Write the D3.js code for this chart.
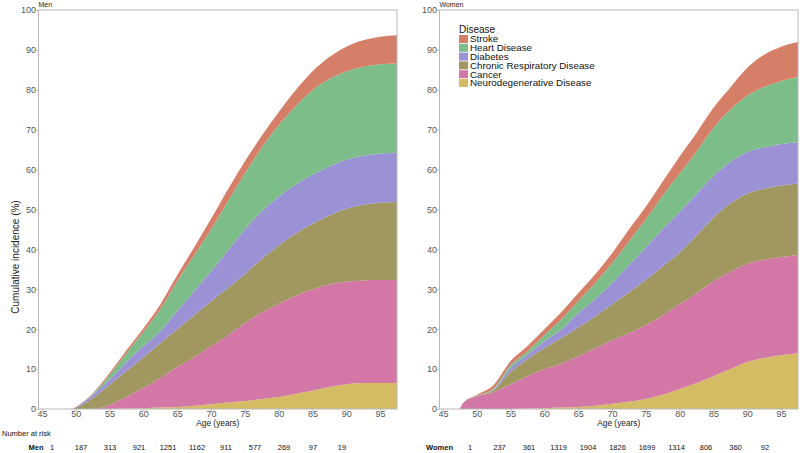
<!DOCTYPE html>
<html>
<head>
<meta charset="utf-8">
<script src="https://cdn.jsdelivr.net/npm/d3@7"></script>
<style>
  body { margin: 0; background: #fff; }
  svg { display: block; font-family: "Liberation Sans", Arial, sans-serif; }
</style>
</head>
<body>
<div id="chart"></div>
<script>
// stacking order, bottom to top
const diseases = ["Neurodegenerative Disease", "Cancer", "Chronic Respiratory Disease", "Diabetes", "Heart Disease", "Stroke"];
const colors = ["#d4bc64", "#d277a6", "#a09860", "#9b91d5", "#7dbd89", "#d67f68"];

// cumulative incidence (%) contributed by each disease, men
const menAges      = [49.5, 50, 52.5, 55, 57.5, 60, 62.5, 65, 67.5, 70, 72.5, 75, 77.5, 80, 82.5, 85, 87.5, 90, 92.5, 95, 97.5];
const menNeuro     = [0, 0, 0, 0, 0.1, 0.2, 0.35, 0.5, 0.8, 1.2, 1.6, 2, 2.5, 3, 3.8, 4.6, 5.5, 6.2, 6.5, 6.5, 6.5];
const menCancer    = [0, 0, 0, 1, 2.9, 5.1, 7.45, 10, 12.2, 14.5, 16.9, 19.5, 21.7, 23.4, 24.5, 25.4, 25.7, 25.7, 25.7, 25.8, 25.8];
const menChronic   = [0, 0.3, 2.7, 5, 6.5, 7.7, 8.7, 9.5, 10.5, 11.3, 11.8, 12.3, 13.4, 14.6, 15.6, 16.4, 17.3, 18.3, 19, 19.4, 19.6];
const menDiabetes  = [0, 0.1, 0.8, 1.3, 2.3, 2.7, 3, 4.5, 6, 7.5, 9.4, 11.2, 11.9, 12.2, 12.3, 12.3, 12.3, 12.3, 12.3, 12.3, 12.3];
const menHeart     = [0, 0.05, 0.2, 1.2, 2.2, 3.6, 5.5, 7.5, 9, 10.5, 12.3, 14, 16, 17.9, 19.7, 21.2, 21.9, 22.1, 22.3, 22.4, 22.4];
const menStroke    = [0, 0.05, 0.2, 0.5, 0.7, 0.9, 1.2, 1.5, 2, 2.6, 3, 3, 3, 3.3, 4, 4.7, 5.5, 6.2, 6.6, 6.9, 7.1];

// women
const womenAges     = [47.5, 48, 50, 52.5, 55, 57.5, 60, 62.5, 65, 67.5, 70, 72.5, 75, 77.5, 80, 82.5, 85, 87.5, 90, 92.5, 95, 97.5];
const womenNeuro    = [0, 0, 0, 0, 0, 0.1, 0.2, 0.35, 0.5, 0.8, 1.3, 1.8, 2.5, 3.6, 5, 6.5, 8.2, 10, 11.8, 12.8, 13.5, 14];
const womenCancer   = [0, 1.5, 3.2, 4.2, 6.2, 8.1, 9.8, 11, 12.7, 14.4, 15.9, 17.2, 18.5, 19.9, 21.3, 22.5, 23.8, 24.4, 24.6, 24.6, 24.6, 24.6];
const womenChronic  = [0, 0, 0, 0.5, 3.1, 4.3, 5.3, 6.4, 7.2, 8, 9, 10.2, 11.3, 12.3, 12.9, 14.5, 16, 17.1, 17.6, 17.8, 17.9, 17.9];
const womenDiabetes = [0, 0, 0, 0.2, 1, 1.1, 1.7, 2.2, 3.6, 4.3, 5.3, 6.8, 8.2, 9.3, 10.2, 10.4, 10.4, 10.4, 10.4, 10.4, 10.4, 10.4];
const womenHeart    = [0, 0, 0.1, 0.3, 0.7, 0.9, 1.5, 2.5, 3, 4, 5, 6, 7, 8.4, 9.6, 10.6, 12.1, 13.1, 14.1, 15.1, 15.8, 16.3];
const womenStroke   = [0, 0, 0.2, 0.8, 1, 1.3, 1.5, 1.8, 2, 2.2, 2.5, 3, 3.2, 3.5, 4.3, 4.7, 5, 5.6, 7, 8.1, 8.6, 8.8];

// number at risk table
const riskAges = [45, 50, 55, 60, 65, 70, 75, 80, 85, 90, 95];
const menRisk = [1, 187, 313, 921, 1251, 1162, 911, 577, 269, 97, 19];
const womenRisk = [1, 237, 361, 1319, 1904, 1826, 1699, 1314, 806, 360, 92];

const xTicks = [45, 50, 55, 60, 65, 70, 75, 80, 85, 90, 95];
const yTicks = [0, 10, 20, 30, 40, 50, 60, 70, 80, 90, 100];

const W = 800, H = 453;
const plotTop = 10, plotBottom = 409;

const svg = d3.select("#chart").append("svg")
    .attr("width", W)
    .attr("height", H);

const color = d3.scaleOrdinal().domain(diseases).range(colors);

const y = d3.scaleLinear().domain([0, 100]).range([plotBottom, plotTop]);

const makeRows = (ages, series) => ages.map((a, i) => {
    const row = { age: a };
    diseases.forEach((k, j) => row[k] = series[j][i]);
    return row;
});

const drawPanel = (opts) => {
    const x = d3.scaleLinear().domain([44.5, 97.5]).range([opts.left, opts.right]);
    const g = svg.append("g");

    const clipId = "clip-" + opts.title;
    svg.append("clipPath").attr("id", clipId)
        .append("rect")
        .attr("x", opts.left).attr("y", plotTop)
        .attr("width", opts.right - opts.left).attr("height", plotBottom - plotTop);

    const stacked = d3.stack().keys(diseases)(makeRows(opts.ages, opts.series));

    const area = d3.area()
        .x((d) => x(d.data.age))
        .y0((d) => y(d[0]))
        .y1((d) => y(d[1]))
        .curve(d3.curveMonotoneX);

    g.append("g")
        .attr("clip-path", `url(#${clipId})`)
        .selectAll("path")
        .data(stacked)
        .join("path")
        .attr("fill", (d) => color(d.key))
        .attr("d", area);

    // panel frame
    g.append("rect")
        .attr("x", opts.left).attr("y", plotTop)
        .attr("width", opts.right - opts.left).attr("height", plotBottom - plotTop)
        .attr("fill", "none")
        .attr("stroke", "#b8b8b8")
        .attr("stroke-width", 1);

    const yAxis = g.append("g")
        .attr("transform", `translate(${opts.left},0)`)
        .call(d3.axisLeft(y).tickValues(yTicks).tickSize(2).tickPadding(0.5));
    const xAxis = g.append("g")
        .attr("transform", `translate(0,${plotBottom})`)
        .call(d3.axisBottom(x).tickValues(xTicks).tickSize(2).tickPadding(0));
    [yAxis, xAxis].forEach((ax) => {
        ax.select(".domain").remove();
        ax.selectAll("line").attr("stroke", "#b8b8b8");
        ax.selectAll("text")
            .attr("fill", "#555")
            .style("font-size", "9px")
            .style("font-family", "Liberation Sans, Arial, sans-serif");
    });

    g.append("text")
        .attr("x", opts.left)
        .attr("y", 7)
        .style("font-size", "7px")
        .attr("fill", "#222")
        .text(opts.title);

    g.append("text")
        .attr("x", (opts.left + opts.right) / 2)
        .attr("y", 425.5)
        .attr("text-anchor", "middle")
        .style("font-size", "8.3px")
        .attr("fill", "#222")
        .text("Age (years)");

    // risk table row
    const r = d3.scalePoint().domain(riskAges).range(opts.riskRange);
    g.append("text")
        .attr("x", opts.labelX)
        .attr("y", 450)
        .attr("text-anchor", "middle")
        .style("font-size", "7.5px")
        .style("font-weight", "bold")
        .attr("fill", "#111")
        .text(opts.title);
    g.selectAll(".risk")
        .data(opts.risk)
        .join("text")
        .attr("x", (d, i) => r(riskAges[i]))
        .attr("y", 450)
        .attr("text-anchor", "middle")
        .style("font-size", "7.5px")
        .attr("fill", "#111")
        .text((d) => d);
};

drawPanel({
    title: "Men", left: 38.5, right: 397,
    ages: menAges,
    series: [menNeuro, menCancer, menChronic, menDiabetes, menHeart, menStroke],
    risk: menRisk, riskRange: [52, 342], labelX: 36,
});
drawPanel({
    title: "Women", left: 439.5, right: 798,
    ages: womenAges,
    series: [womenNeuro, womenCancer, womenChronic, womenDiabetes, womenHeart, womenStroke],
    risk: womenRisk, riskRange: [470, 765], labelX: 439.5,
});

svg.append("text")
    .attr("transform", "translate(19,257) rotate(-90)")
    .attr("text-anchor", "middle")
    .style("font-size", "10px")
    .attr("fill", "#222")
    .text("Cumulative incidence (%)");

svg.append("text")
    .attr("x", 2)
    .attr("y", 436)
    .style("font-size", "7.5px")
    .attr("fill", "#111")
    .text("Number at risk");

// legend, top of stack first
const legend = svg.append("g").attr("transform", "translate(459,25)");
legend.append("text")
    .attr("x", 0).attr("y", 7.5)
    .style("font-size", "10px")
    .attr("fill", "#111")
    .text("Disease");
const items = legend.selectAll(".item")
    .data(diseases.slice().reverse())
    .join("g")
    .attr("transform", (d, i) => `translate(0,${10 + i * 8.8})`);
items.append("rect")
    .attr("width", 9).attr("height", 8)
    .attr("fill", (d) => color(d));
items.append("text")
    .attr("x", 11).attr("y", 7.4)
    .style("font-size", "9.8px")
    .attr("fill", "#111")
    .text((d) => d);
</script>
</body>
</html>
